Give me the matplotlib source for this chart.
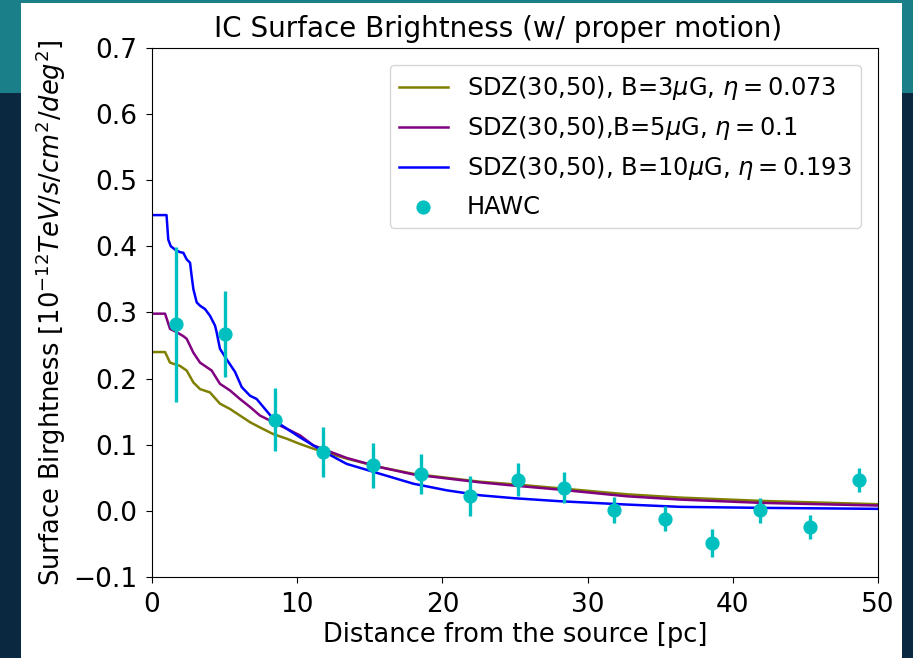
import matplotlib
matplotlib.use("Agg")
import matplotlib.pyplot as plt
from matplotlib.patches import Rectangle
import numpy as np

# model curves
x_b3 = [0, 0.9, 1.24, 1.93, 2.39, 2.85, 3.31, 3.99, 4.68, 5.37, 6.06, 6.75, 7.44, 8.35,
        9.28, 10.2, 11.1, 13.4, 15.7, 18.0, 20.3, 22.6, 25, 28.1, 32.7, 36.4, 42, 50]
y_b3 = [0.240, 0.240, 0.224, 0.219, 0.212, 0.194, 0.184, 0.179, 0.162, 0.154, 0.144, 0.134,
        0.126, 0.116, 0.109, 0.101, 0.094, 0.079, 0.066, 0.056, 0.050, 0.044, 0.040, 0.034,
        0.025, 0.020, 0.015, 0.010]

x_b5 = [0, 0.9, 1.24, 1.7, 2.16, 2.39, 2.85, 3.31, 4.11, 4.68, 5.37, 6.06, 6.75, 7.44, 8.35,
        9.28, 10.2, 11.1, 13.4, 15.7, 18.0, 20.3, 22.6, 25, 28.1, 32.7, 36.4, 42, 50]
y_b5 = [0.298, 0.298, 0.275, 0.270, 0.264, 0.260, 0.239, 0.224, 0.212, 0.192, 0.182, 0.169,
        0.157, 0.144, 0.134, 0.124, 0.114, 0.099, 0.080, 0.066, 0.055, 0.049, 0.043, 0.038,
        0.032, 0.022, 0.017, 0.012, 0.008]

x_b10 = [0, 1.0, 1.12, 1.29, 1.58, 1.93, 2.16, 2.39, 2.62, 2.73, 2.85, 3.08, 3.31, 3.65, 3.99,
         4.34, 4.45, 4.68, 5.14, 5.72, 6.18, 6.75, 7.21, 7.78, 8.47, 9.5, 10.2, 11.1, 12.3,
         13.4, 15.7, 18.0, 20.3, 22.6, 25, 28.1, 32.7, 36.4, 42, 50]
y_b10 = [0.447, 0.447, 0.410, 0.400, 0.395, 0.391, 0.390, 0.380, 0.375, 0.355, 0.335, 0.315,
         0.310, 0.305, 0.295, 0.280, 0.270, 0.245, 0.229, 0.210, 0.187, 0.174, 0.169, 0.154,
         0.136, 0.121, 0.111, 0.099, 0.084, 0.071, 0.056, 0.041, 0.031, 0.0235, 0.019, 0.0145,
         0.0095, 0.006, 0.0045, 0.003]

# HAWC points
hawc_x = [1.65, 5.0, 8.47, 11.8, 15.25, 18.5, 21.9, 25.2, 28.4, 31.8, 35.3, 38.6, 41.85, 45.3, 48.7]
hawc_y = [0.282, 0.267, 0.138, 0.089, 0.069, 0.056, 0.022, 0.047, 0.035, 0.001, -0.012,
          -0.049, 0.001, -0.024, 0.047]
hawc_err = [0.117, 0.065, 0.048, 0.038, 0.034, 0.030, 0.030, 0.025, 0.023, 0.020, 0.019,
            0.021, 0.019, 0.018, 0.018]

fig = plt.figure(figsize=(9.13, 6.58), dpi=100, facecolor="#0a2840")
# slide background: teal band on top, white panel for the plot
fig.patches.append(Rectangle((0, 1 - 93 / 658), 1, 93 / 658, transform=fig.transFigure,
                             facecolor="#1a7f89", edgecolor="none", zorder=-3))
fig.patches.append(Rectangle((21 / 913, 0), (902 - 21) / 913, 655 / 658,
                             transform=fig.transFigure, facecolor="white",
                             edgecolor="none", zorder=-2))

ax = fig.add_axes([152 / 913, 1 - 577 / 658, (878 - 152) / 913, (577 - 47.7) / 658])

ax.plot(x_b3, y_b3, color="olive", lw=1.8, label=r"SDZ(30,50), B=3$\mu$G, $\eta = 0.073$")
ax.plot(x_b5, y_b5, color="purple", lw=1.8, label=r"SDZ(30,50),B=5$\mu$G, $\eta = 0.1$")
ax.plot(x_b10, y_b10, color="blue", lw=1.8, label=r"SDZ(30,50), B=10$\mu$G, $\eta = 0.193$")
ax.errorbar(hawc_x, hawc_y, yerr=hawc_err, fmt="none", ecolor="c", elinewidth=2.4, zorder=4)
ax.scatter(hawc_x, hawc_y, s=85, color="c", label="HAWC", zorder=5)

ax.set_xlim(0, 50)
ax.set_ylim(-0.1, 0.7)
ax.set_xticks([0, 10, 20, 30, 40, 50])
ax.set_yticks(np.round(np.arange(-0.1, 0.71, 0.1), 1))
ax.tick_params(labelsize=19, length=4.5, pad=6)
ax.set_title("IC Surface Brightness (w/ proper motion)", fontsize=20, x=0.477, pad=8)
ax.set_xlabel("Distance from the source [pc]", fontsize=18.5, labelpad=3)
ax.set_ylabel(r"Surface Birghtness [$10^{-12} TeV/s/cm^2/deg^2$]", fontsize=18.5)
ax.legend(fontsize=17.4, loc="upper right", borderaxespad=0.7)

fig.savefig("out.png", dpi=100, facecolor=fig.get_facecolor())
